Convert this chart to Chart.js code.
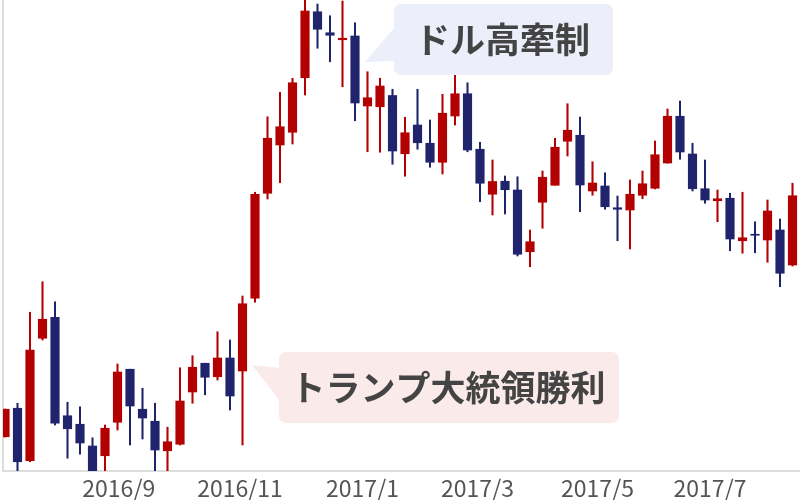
<!DOCTYPE html>
<html lang="ja">
<head>
<meta charset="utf-8">
<title>ドル円 週足</title>
<script src="https://cdn.jsdelivr.net/npm/chart.js@4/dist/chart.umd.min.js"></script>
<style>
  html, body { margin: 0; padding: 0; background: #ffffff; }
  #wrap { width: 800px; height: 500px; }
</style>
</head>
<body>
<div id="wrap"><canvas id="candleChart" width="800" height="500"></canvas></div>
<script>
// 週足の四本値 (ドル円)
const opens = [
  101.37, 102.51, 100.41, 105.31, 106.15, 102.21, 101.87, 101.00, 100.61, 101.95,
  104.07, 102.47, 101.99, 100.81, 101.07, 103.16, 104.31, 103.77, 104.52, 104.00,
  106.91, 111.11, 113.04, 113.55, 115.73, 118.37, 117.53, 117.25, 117.40, 114.60,
  114.57, 115.02, 112.69, 113.84, 113.11, 112.35, 114.20, 115.09, 112.87, 111.07,
  111.59, 111.24, 108.77, 110.75, 111.43, 113.19, 113.43, 111.20, 111.40, 110.53,
  110.44, 111.03, 111.31, 112.32, 114.19, 112.68, 111.29, 110.81, 110.91, 109.21,
  109.47, 109.24, 109.64, 108.24
];
const highs = [
  102.48, 102.71, 106.35, 107.57, 106.77, 102.75, 102.57, 101.33, 101.84, 104.28,
  104.07, 103.31, 102.71, 101.75, 104.13, 104.61, 104.31, 105.57, 105.24, 107.00,
  111.15, 114.17, 115.15, 115.71, 118.90, 118.68, 118.21, 118.80, 117.93, 115.97,
  115.71, 115.27, 114.15, 115.27, 114.04, 115.07, 116.04, 115.53, 113.15, 112.44,
  111.80, 111.77, 109.64, 112.00, 113.31, 114.69, 114.16, 112.37, 111.93, 111.00,
  111.64, 112.00, 113.20, 114.48, 114.80, 113.11, 112.44, 111.24, 111.11, 111.15,
  109.97, 110.84, 110.08, 111.51
];
const lows = [
  101.36, 99.90, 100.37, 105.24, 101.84, 100.51, 100.67, 99.90, 99.90, 101.64,
  101.04, 101.28, 99.90, 99.90, 101.04, 102.71, 103.05, 103.64, 102.44, 101.04,
  106.75, 110.88, 111.53, 113.08, 115.04, 116.91, 116.37, 115.37, 114.01, 112.77,
  112.75, 112.27, 111.79, 112.87, 112.15, 111.88, 113.84, 112.77, 110.77, 110.24,
  110.28, 108.60, 108.17, 109.71, 111.43, 112.60, 110.37, 111.03, 110.47, 109.21,
  108.88, 110.89, 111.28, 112.31, 112.47, 111.20, 110.71, 109.97, 108.81, 108.71,
  108.73, 108.35, 107.37, 108.20
];
const closes = [
  102.47, 100.37, 104.84, 106.07, 101.91, 101.69, 101.12, 100.01, 101.71, 103.96,
  102.60, 102.12, 100.84, 101.17, 102.80, 104.15, 103.75, 104.52, 103.00, 106.69,
  111.07, 113.31, 113.77, 115.53, 118.40, 117.67, 117.43, 117.31, 114.72, 114.93,
  115.40, 112.80, 113.53, 113.13, 112.35, 114.31, 115.09, 112.84, 111.51, 111.58,
  111.25, 108.67, 109.17, 111.75, 112.95, 113.63, 111.44, 111.52, 110.57, 110.47,
  111.07, 111.49, 112.65, 114.19, 112.76, 111.29, 110.84, 110.89, 109.28, 109.33,
  109.43, 110.40, 107.91, 111.01
];

// 目盛り (ローソク足の番号で位置を指定)
const tickPositions = [9.1, 18.8, 28.6, 37.8, 47.4, 56.4];
const tickLabels = ["2016/9", "2016/11", "2017/1", "2017/3", "2017/5", "2017/7"];

const upColor = "#b30000";
const downColor = "#1f246c";

const bodies = [];
const wicks = [];
const colors = [];
opens.forEach((o, i) => {
  bodies.push({ x: i, y: [o, closes[i]] });
  wicks.push({ x: i, y: [lows[i], highs[i]] });
  colors.push(closes[i] >= o ? upColor : downColor);
});

// 吹き出し
const callouts = [
  { text: "ドル高牽制", x: 394, y: 4, w: 219, h: 71, fill: "#eceefa",
    tail: [[395, 27], [365, 62], [395, 61]] },
  { text: "トランプ大統領勝利", x: 279, y: 352, w: 340, h: 71, fill: "#fbeaea",
    tail: [[280, 368], [252, 365], [280, 401]] },
];

function roundBox(ctx, x, y, w, h, r) {
  ctx.beginPath();
  ctx.moveTo(x + r, y);
  ctx.arcTo(x + w, y, x + w, y + h, r);
  ctx.arcTo(x + w, y + h, x, y + h, r);
  ctx.arcTo(x, y + h, x, y, r);
  ctx.arcTo(x, y, x + w, y, r);
  ctx.closePath();
}

const calloutPlugin = {
  id: "callouts",
  afterDraw(chart) {
    const ctx = chart.ctx;
    ctx.save();
    callouts.forEach((c) => {
      ctx.fillStyle = c.fill;
      roundBox(ctx, c.x, c.y, c.w, c.h, 7);
      ctx.fill();
      ctx.beginPath();
      ctx.moveTo(c.tail[0][0], c.tail[0][1]);
      ctx.lineTo(c.tail[1][0], c.tail[1][1]);
      ctx.lineTo(c.tail[2][0], c.tail[2][1]);
      ctx.closePath();
      ctx.fill();
      ctx.fillStyle = "#444444";
      ctx.font = "bold 35px 'Noto Sans CJK JP', 'Noto Sans', sans-serif";
      ctx.textAlign = "center";
      ctx.textBaseline = "middle";
      ctx.fillText(c.text, c.x + c.w / 2 - 1, c.y + c.h / 2 + 0.5);
    });
    ctx.restore();
  },
};

const ctxCandle = document.getElementById("candleChart");
new Chart(ctxCandle, {
  type: "bar",
  data: {
    datasets: [
      {
        label: "実体",
        data: bodies,
        backgroundColor: colors,
        barThickness: 8.5,
        borderWidth: 0,
        order: 0,
      },
      {
        label: "ヒゲ",
        data: wicks,
        backgroundColor: colors,
        barThickness: 1.4,
        borderWidth: 0,
        order: 1,
      },
    ],
  },
  options: {
    responsive: false,
    animation: false,
    events: [],
    layout: { padding: { left: 3, right: 0, top: 0, bottom: 0 } },
    datasets: { bar: { grouped: false } },
    plugins: {
      legend: { display: false },
      tooltip: { enabled: false },
    },
    scales: {
      x: {
        type: "linear",
        offset: false,
        min: -0.16,
        max: 63.6,
        grid: { display: false, drawTicks: false },
        border: { display: true, color: "#dddddd", width: 2 },
        afterBuildTicks: (scale) => {
          scale.ticks = tickPositions.map((v) => ({ value: v }));
        },
        // 軸の高さを固定して描画域の下端を合わせる
        afterFit: (scale) => {
          scale.height = 29;
        },
        ticks: {
          autoSkip: false,
          maxRotation: 0,
          minRotation: 0,
          padding: 6,
          color: "#555555",
          font: { family: "'Noto Sans CJK JP', 'Noto Sans', sans-serif", size: 23, lineHeight: 1 },
          callback: (value, index) => tickLabels[index],
        },
      },
      y: {
        min: 100,
        max: 118.84,
        beginAtZero: false,
        grid: { display: false, drawTicks: false },
        border: { display: true, color: "#dddddd", width: 2 },
        ticks: { display: false },
      },
    },
  },
  plugins: [calloutPlugin],
});
</script>
</body>
</html>
